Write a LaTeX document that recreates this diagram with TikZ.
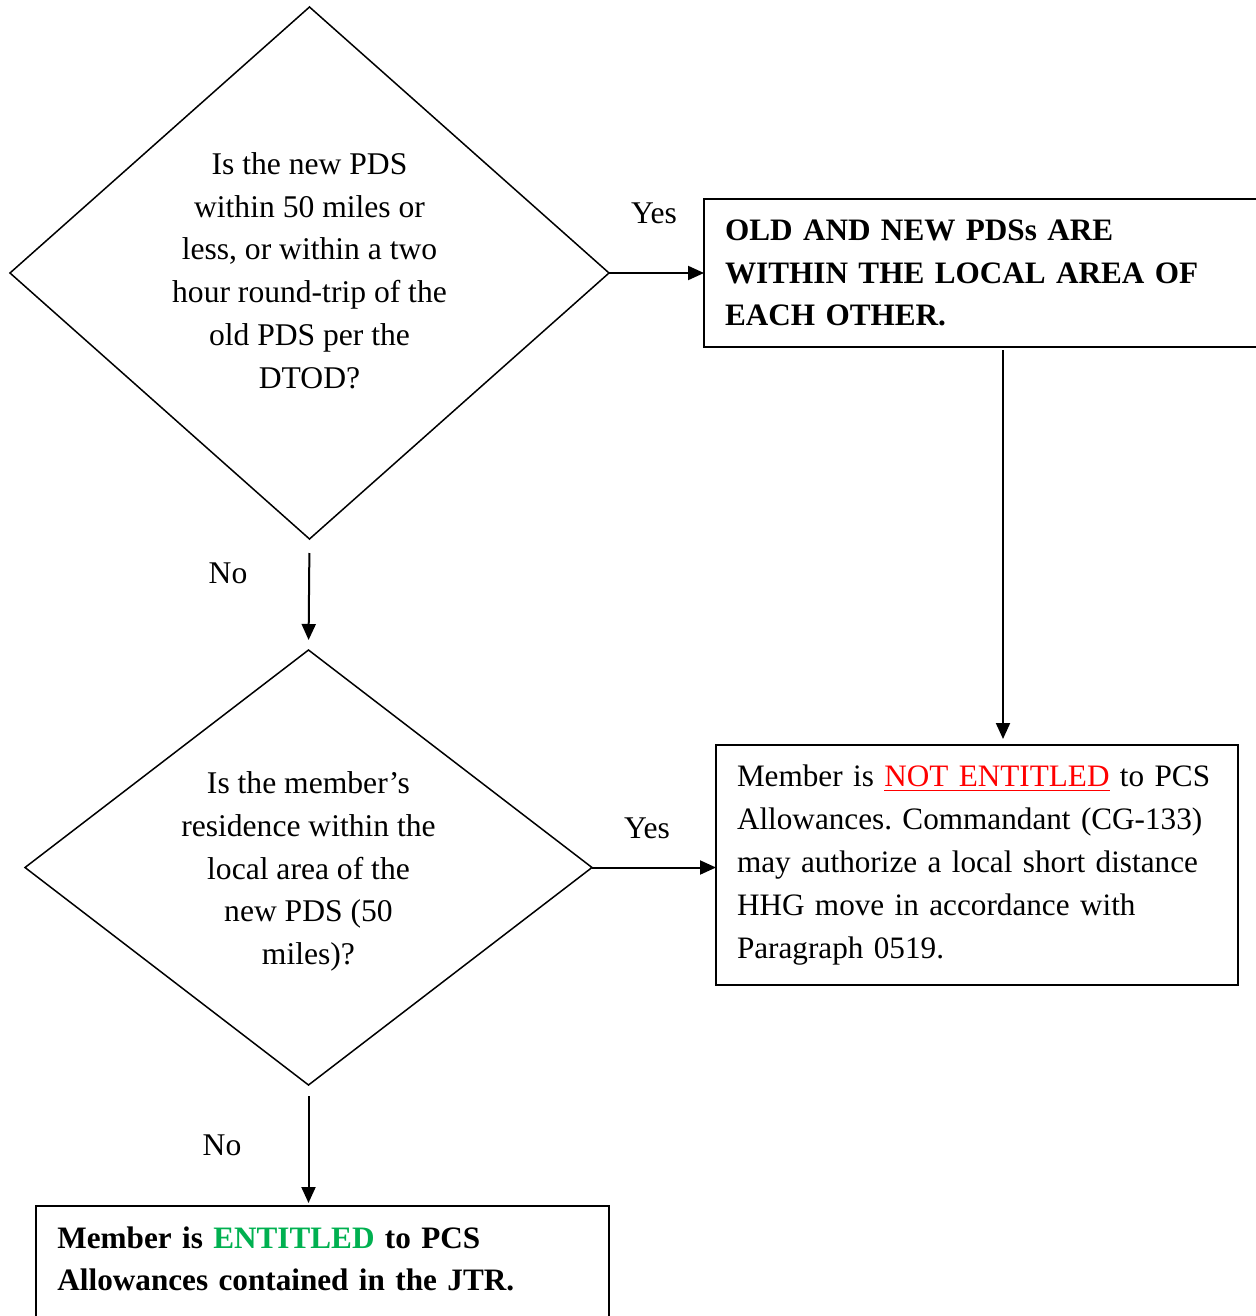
\documentclass[tikz,border=0pt]{standalone}
\usepackage{fontspec}
\setmainfont{Liberation Serif}
\usetikzlibrary{shapes.geometric,arrows.meta,calc}
\definecolor{entgreen}{RGB}{0,176,80}
\definecolor{notred}{RGB}{255,0,0}
\frenchspacing
\begin{document}
\begin{tikzpicture}[x=0.5pt,y=-0.5pt,
  every node/.style={font=\fontsize{15.8}{21.4}\selectfont},
  boxfont/.style={font=\fontsize{15.6}{21.4}\selectfont},
  dia/.style={draw, diamond, line width=0.75pt, inner sep=0pt, outer sep=0pt},
  dtext/.style={align=center, inner sep=0pt},
  box/.style={draw, line width=0.9pt, rectangle, outer sep=0pt, align=left, anchor=north west, inner xsep=10.5pt, boxfont},
  arr/.style={line width=1pt, -{Triangle[length=8pt,width=7pt]}},
  lbl/.style={inner sep=0pt}]
\useasboundingbox (0,0) rectangle (1255,1316);
% decision 1
\node[dia, minimum width=299.5pt, minimum height=266pt] (d1) at (309.5,273) {};
\node[dtext] (t1) at ($(d1.center)+(0,-2.5)$) {Is the new PDS\\within 50 miles or\\less, or within a two\\hour round-trip of the\\old PDS per the\\DTOD?};
% decision 2
\node[dia, minimum width=283.5pt, minimum height=217.5pt] (d2) at (308.5,867.5) {};
\node[dtext] (t2) at ($(d2.center)+(0,4)$) {Is the member’s\\residence within the\\local area of the\\new PDS (50\\miles)?};
% box 1
\node[box, minimum height=74pt, text width=259.5pt] (box1) at (704,199) {\bfseries OLD AND NEW PDSs ARE\\WITHIN THE LOCAL AREA OF\\EACH OTHER.};
% box 2
\node[box, minimum height=120pt, text width=240pt] (box2) at (716,745) {Member is \textcolor{notred}{\underline{NOT ENTITLED}} to PCS\\Allowances. Commandant (CG-133)\\may authorize a local short distance\\HHG move in accordance with\\Paragraph 0519.};
% box 3
\node[draw, line width=0.9pt, rectangle, outer sep=0pt, anchor=north west, minimum width=286.5pt, minimum height=80pt] (box3) at (36,1206) {};
\node[boxfont, anchor=north west, align=left, text width=265pt, inner sep=0pt] (t3) at ($(box3.north west)+(21,20)$) {\bfseries Member is \textcolor{entgreen}{ENTITLED} to PCS\\Allowances contained in the JTR.};
% labels
\node[lbl] (y1) at (654,213) {Yes};
\node[lbl] (n1) at (228,573) {No};
\node[lbl] (y2) at (647,828) {Yes};
\node[lbl] (n2) at (222,1145) {No};
% connectors
\coordinate (c1) at (1003,0);
\draw[arr] (d1.east) -- (d1.east -| box1.west);
\draw[arr, shorten <=1.5pt, shorten >=3pt] (box1.south -| c1) -- (box2.north -| c1);
\draw[arr, shorten <=7pt, shorten >=5pt] (d1.south) -- (d2.north);
\draw[arr] (d2.east) -- (d2.east -| box2.west);
\draw[arr, shorten <=5.5pt, shorten >=1.5pt] (d2.south) -- (d2.south |- box3.north);
\end{tikzpicture}
\end{document}
